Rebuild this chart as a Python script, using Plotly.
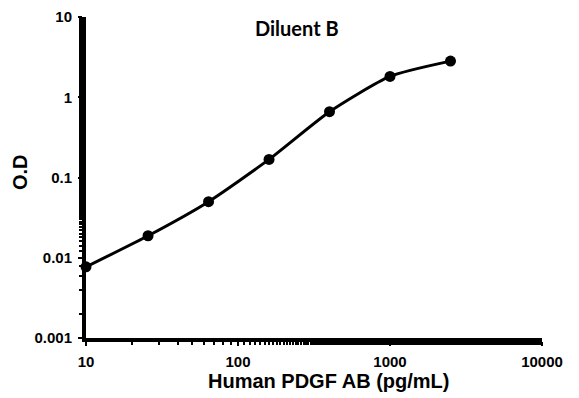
import plotly.graph_objects as go

conc = [10, 25.6, 64, 160, 400, 1000, 2500]
od = [0.0077, 0.0188, 0.050, 0.168, 0.66, 1.82, 2.82]
x_ticks = [10, 100, 1000, 10000]
x_labels = ["10", "100", "1000", "10000"]
y_ticks = [0.001, 0.01, 0.1, 1, 10]
y_labels = ["0.001", "0.01", "0.1", "1", "10"]

fig = go.Figure()
fig.add_trace(go.Scatter(
    x=conc, y=od, mode="lines+markers",
    line=dict(color="black", width=3, shape="spline", smoothing=0.6),
    marker=dict(color="black", size=11),
    showlegend=False, cliponaxis=False,
))

# page has an 8px body offset; plot area on screen: x 86..542, y 17..338
OFF = 8
X0, X1, Y0, Y1 = 86, 542, 17, 338
W, H = 579, 398
L, T = X0 - OFF, Y0 - OFF
R, B = W - (X1 - OFF), H - (Y1 - OFF)
PW, PH = X1 - X0, Y1 - Y0

def px(x):
    return (x - X0) / PW

def py(y):
    return (Y1 - y) / PH

def axis_common():
    return dict(
        type="log", showline=True, linecolor="black", linewidth=4, showgrid=False,
        zeroline=False, automargin=False,
        ticks="outside", ticklen=4, tickwidth=2, tickcolor="black",
        minor=dict(ticks="outside", ticklen=3, tickwidth=2, tickcolor="black", showgrid=False),
        tickfont=dict(family="Liberation Sans, Arial", size=15, color="black"),
        ticklabelstandoff=3,
    )

fig.update_layout(
    width=W, height=H,
    margin=dict(l=L, r=R, t=T, b=B, autoexpand=False),
    paper_bgcolor="white", plot_bgcolor="white",
    xaxis=dict(range=[1, 4], tickvals=x_ticks, ticktext=["<b>%s</b>" % s for s in x_labels],
               **axis_common()),
    yaxis=dict(range=[-3, 1], tickvals=y_ticks, ticktext=["<b>%s</b>" % s for s in y_labels],
               **axis_common()),
)
fig.add_annotation(text="<b>Diluent B</b>", xref="paper", yref="paper",
                   x=px(297), y=py(28),
                   xanchor="center", yanchor="middle", showarrow=False,
                   font=dict(family="Lato, Open Sans", size=20, color="black"))
fig.add_annotation(text="<b>Human PDGF AB (pg/mL)</b>", xref="paper", yref="paper",
                   x=px(328), y=py(381),
                   xanchor="center", yanchor="middle", showarrow=False,
                   font=dict(family="Liberation Sans, Arial", size=20, color="black"))
fig.add_annotation(text="<b>O.D</b>", xref="paper", yref="paper",
                   x=px(20), y=py(172),
                   xanchor="center", yanchor="middle", textangle=-90, showarrow=False,
                   font=dict(family="Liberation Sans, Arial", size=20, color="black"))
fig.write_html("out.html")
